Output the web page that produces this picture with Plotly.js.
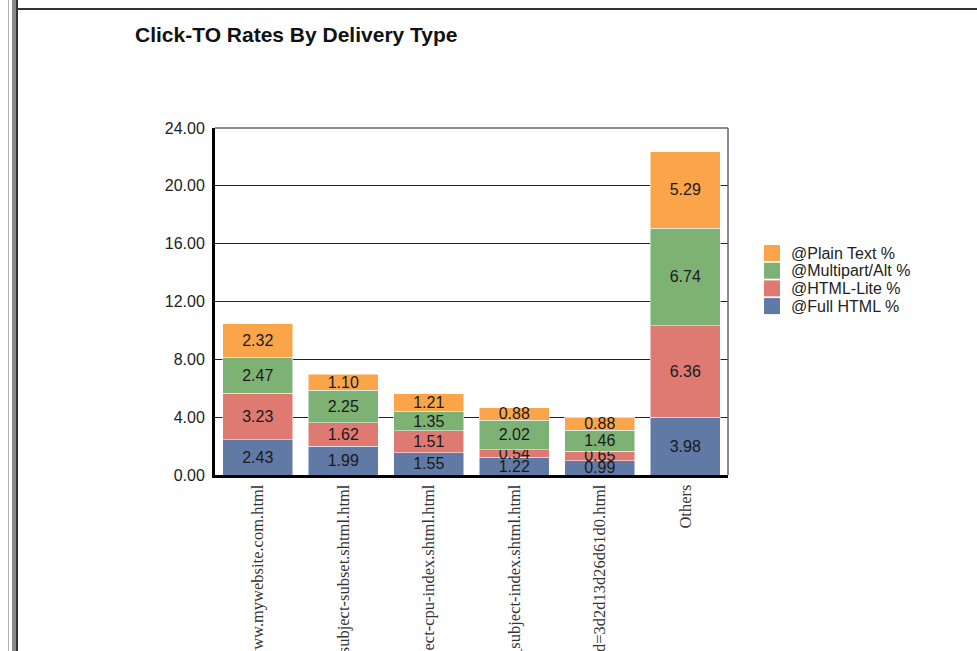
<!DOCTYPE html>
<html>
<head>
<meta charset="utf-8">
<script src="https://cdn.plot.ly/plotly-3.0.1.min.js"></script>
<style>
  html, body { margin: 0; padding: 0; background: #fff; overflow: hidden; }
  #chart { position: absolute; left: 0; top: 0; width: 977px; height: 651px; }
  .deco { position: absolute; pointer-events: none; }
</style>
</head>
<body>
<div id="chart"></div>
<div class="deco" style="left:8px; top:0; width:1px; height:651px; background:#b0b0b0;"></div>
<div class="deco" style="left:12px; top:0; width:4px; height:651px; background:#8a8a8a;"></div>
<div class="deco" style="left:16px; top:0; width:2px; height:651px; background:#333;"></div>
<div class="deco" style="left:18px; top:8px; width:959px; height:2px; background:#333;"></div>
<script>
const categories = [
  "www.mywebsite.com.html",
  "subject-subset.shtml.html",
  "ect-cpu-index.shtml.html",
  "_subject-index.shtml.html",
  "d=3d2d13d26d61d0.html",
  "Others"
];
const fullHtml  = [2.43, 1.99, 1.55, 1.22, 0.99, 3.98];
const htmlLite  = [3.23, 1.62, 1.51, 0.54, 0.65, 6.36];
const multipart = [2.47, 2.25, 1.35, 2.02, 1.46, 6.74];
const plainText = [2.32, 1.10, 1.21, 0.88, 0.88, 5.29];
const seriesNames = ["@Full HTML %", "@HTML-Lite %", "@Multipart/Alt %", "@Plain Text %"];
const seriesColors = ["#6079a5", "#df7a73", "#7db274", "#fba54a"];
const yTicks = [0, 4, 8, 12, 16, 20, 24];

const FONT = "Liberation Sans, Arial, sans-serif";
const seriesValues = [fullHtml, htmlLite, multipart, plainText];
const traces = seriesValues.map((vals, i) => ({
  type: "bar",
  x: categories,
  y: vals,
  name: seriesNames[i],
  showlegend: false,
  marker: { color: seriesColors[i], line: { color: "#ffffff", width: 0.5 } },
  texttemplate: "%{y:.2f}",
  textposition: "inside",
  insidetextanchor: "middle",
  constraintext: "none",
  textangle: 0,
  textfont: { family: FONT, size: 16, color: "#1a1a1a" },
  cliponaxis: false,
  hoverinfo: "skip"
}));

// Legend (top entry = last series), drawn as swatches + labels in pixel-derived paper coords
const plotL = 215, plotR = 728, plotT = 128, plotB = 475;
const px2x = p => (p - plotL) / (plotR - plotL);
const px2y = p => (plotB - p) / (plotB - plotT);
const legendShapes = [];
const legendAnnots = [];
const legendOrder = [3, 2, 1, 0];
legendOrder.forEach((si, k) => {
  const cy = 253 + k * 17.7;
  legendShapes.push({
    type: "rect", xref: "paper", yref: "paper",
    x0: px2x(764), x1: px2x(780), y0: px2y(cy + 8), y1: px2y(cy - 8),
    fillcolor: seriesColors[si], line: { width: 0 }
  });
  legendAnnots.push({
    xref: "paper", yref: "paper", x: px2x(789), y: px2y(cy),
    xanchor: "left", yanchor: "middle", showarrow: false,
    text: seriesNames[si],
    font: { family: FONT, size: 16, color: "#222" }
  });
});

const layout = {
  width: 977,
  height: 651,
  paper_bgcolor: "rgba(0,0,0,0)",
  plot_bgcolor: "#ffffff",
  margin: { l: 215, r: 249, t: 128, b: 176 },
  barmode: "stack",
  bargap: 0.18,
  showlegend: false,
  title: {
    text: "<b>Click-TO Rates By Delivery Type</b>",
    font: { family: FONT, size: 21, color: "#111" },
    x: 135 / 977, xanchor: "left", xref: "container",
    y: 1 - 35 / 651, yanchor: "middle", yref: "container"
  },
  xaxis: {
    type: "category",
    tickangle: -90,
    ticks: "",
    showgrid: false,
    showline: true,
    linecolor: "#000",
    linewidth: 3,
    automargin: false,
    tickfont: { family: "Liberation Serif, Times New Roman, serif", size: 16.5, color: "#333" }
  },
  yaxis: {
    range: [0, 24],
    tickvals: yTicks,
    tickformat: ".2f",
    ticks: "",
    showgrid: true,
    gridcolor: "#222",
    gridwidth: 1,
    zeroline: false,
    showline: true,
    linecolor: "#000",
    linewidth: 3,
    automargin: false,
    ticklabelstandoff: 4,
    tickfont: { family: FONT, size: 16, color: "#222" }
  },
  shapes: [
    { type: "line", xref: "paper", yref: "paper", x0: 0, x1: 1, y0: 1, y1: 1, line: { color: "#666", width: 1.5 } },
    { type: "line", xref: "paper", yref: "paper", x0: 1, x1: 1, y0: 0, y1: 1, line: { color: "#666", width: 1.5 } }
  ].concat(legendShapes),
  annotations: legendAnnots
};

Plotly.newPlot("chart", traces, layout, { displayModeBar: false, staticPlot: true });
</script>
</body>
</html>
